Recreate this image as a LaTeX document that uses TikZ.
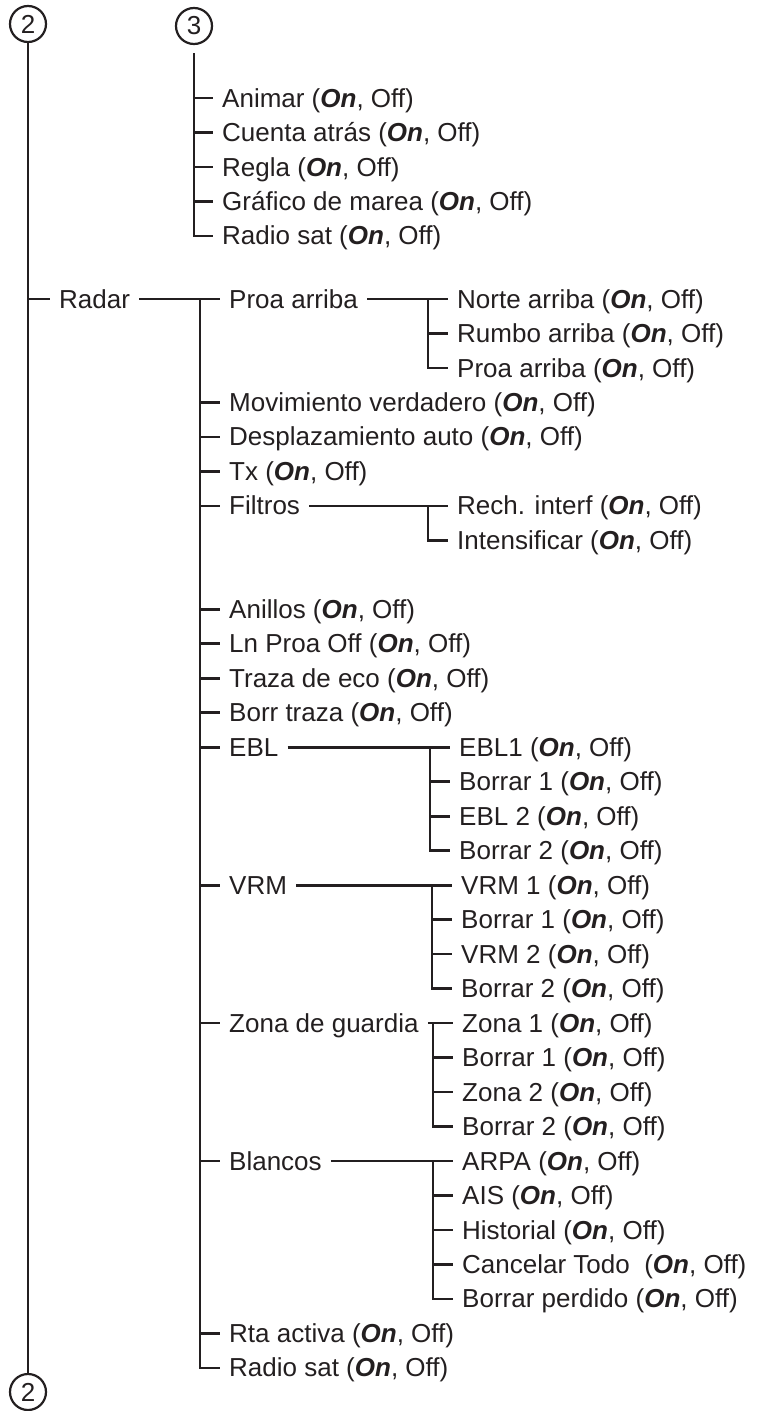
\documentclass[tikz,border=0pt]{standalone}
\usepackage{fontspec}
\setmainfont{Liberation Sans}
\definecolor{ink}{HTML}{231F20}
\newcommand{\onoff}{(\textbf{\textit{On}}, Off)}

\begin{document}
\begin{tikzpicture}[x=1pt, y=-1pt, font=\fontsize{26}{30}\selectfont,
  line/.style={ink, line width=2.7pt},
  item/.style={anchor=west, text=ink, inner xsep=9pt, inner ysep=0pt, text height=19pt, text depth=1pt},
  badge/.style={circle, draw=ink, text=ink, line width=2.2pt, minimum size=36pt, inner sep=0pt}]
  \useasboundingbox (0,0) rectangle (761,1411);

  % Page markers
  \node[badge] (ctwo) at (28,24) {2};
  \node[badge] (cthree) at (194,26) {3};
  \node[badge] (ctwobot) at (28,1392) {2};

  % Items under marker 3
  \node[item] (animar) at (213,98) {Animar \onoff};
  \node[item] (cuenta) at (213,132.5) {Cuenta atrás \onoff};
  \node[item] (regla) at (213,167) {Regla \onoff};
  \node[item] (grafico) at (213,201.4) {Gráfico de marea \onoff};
  \node[item] (topsat) at (213,235.9) {Radio sat \onoff};

  % Radar menu
  \node[item] (radar) at (50,299) {Radar};
  \node[item] (proa) at (220,299) {Proa arriba};
  \node[item] (norte) at (448,299) {Norte arriba \onoff};
  \node[item] (rumbo) at (448,333.5) {Rumbo arriba \onoff};
  \node[item] (proaup) at (448,368) {Proa arriba \onoff};
  \node[item] (movim) at (220,402.4) {Movimiento verdadero \onoff};
  \node[item] (despl) at (220,436.9) {Desplazamiento auto \onoff};
  \node[item] (tx) at (220,471.4) {Tx \onoff};
  \node[item] (filtros) at (220,505.9) {Filtros};
  \node[item] (rech) at (448,505.9) {Rech. interf \onoff};
  \node[item] (intens) at (448,540.4) {Intensificar \onoff};
  \node[item] (anillos) at (220,609.3) {Anillos \onoff};
  \node[item] (lnproa) at (220,643.8) {Ln Proa Off \onoff};
  \node[item] (traza) at (220,678.3) {Traza de eco \onoff};
  \node[item] (borrtr) at (220,712.8) {Borr traza \onoff};
  \node[item] (ebl) at (220,747.2) {EBL};
  \node[item] (eblone) at (450,747.2) {EBL1 \onoff};
  \node[item] (ebldela) at (450,781.7) {Borrar 1 \onoff};
  \node[item] (ebltwo) at (450,816.2) {EBL 2 \onoff};
  \node[item] (ebldelb) at (450,850.7) {Borrar 2 \onoff};
  \node[item] (vrm) at (220,885.2) {VRM};
  \node[item] (vrmone) at (452,885.2) {VRM 1 \onoff};
  \node[item] (vrmdela) at (452,919.6) {Borrar 1 \onoff};
  \node[item] (vrmtwo) at (452,954.1) {VRM 2 \onoff};
  \node[item] (vrmdelb) at (452,988.6) {Borrar 2 \onoff};
  \node[item] (zona) at (220,1023.1) {Zona de guardia};
  \node[item] (zonaone) at (453,1023.1) {Zona 1 \onoff};
  \node[item] (zonadela) at (453,1057.6) {Borrar 1 \onoff};
  \node[item] (zonatwo) at (453,1092) {Zona 2 \onoff};
  \node[item] (zonadelb) at (453,1126.5) {Borrar 2 \onoff};
  \node[item] (blancos) at (220,1161) {Blancos};
  \node[item] (arpa) at (453,1161) {ARPA \onoff};
  \node[item] (ais) at (453,1195.5) {AIS \onoff};
  \node[item] (hist) at (453,1230) {Historial \onoff};
  \node[item] (cancel) at (453,1264.4) {Cancelar Todo\ \ \onoff};
  \node[item] (perdido) at (453,1298.9) {Borrar perdido \onoff};
  \node[item] (rta) at (220,1333.4) {Rta activa \onoff};
  \node[item] (radsat) at (220,1367.9) {Radio sat \onoff};

  % Main spine
  \draw[line] (ctwo) -- (ctwobot);
  \draw[line] (radar.west -| ctwo.center) -- (radar.west);

  % Branch under marker 3
  \draw[line] ([yshift=-8pt]cthree.south) |- (topsat.west);
  \foreach \n in {animar,cuenta,regla,grafico}
    \draw[line] (cthree.center |- \n.west) -- (\n.west);

  % Radar branch
  \draw[line] (radar.east) -- (proa.west);
  \foreach \n in {movim,despl,tx,filtros,anillos,lnproa,traza,borrtr,ebl,vrm,zona,blancos,rta,radsat}
    \draw[line] ([xshift=-20pt]proa.west) |- (\n.west);

  % Sub-menus
  \foreach \p/\f/\others in {proa/norte/{rumbo,proaup}, filtros/rech/{intens},
      ebl/eblone/{ebldela,ebltwo,ebldelb}, vrm/vrmone/{vrmdela,vrmtwo,vrmdelb},
      zona/zonaone/{zonadela,zonatwo,zonadelb}, blancos/arpa/{ais,hist,cancel,perdido}} {
    \draw[line] (\p.east) -- (\f.west);
    \foreach \n in \others
      \draw[line] ([xshift=-20pt]\f.west) |- (\n.west);
  }
\end{tikzpicture}
\end{document}
